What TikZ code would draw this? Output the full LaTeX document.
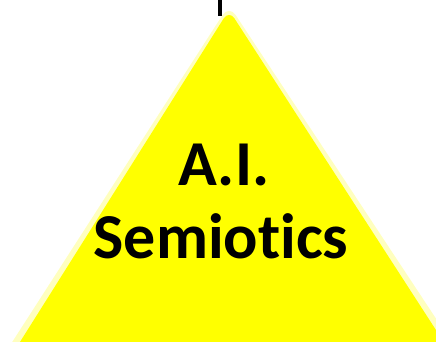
\documentclass[tikz,border=0pt]{standalone}
\usepackage{fontspec}
\setmainfont[Ligatures={NoCommon}]{Carlito}
\definecolor{triyellow}{HTML}{FFFF00}
\definecolor{haloyellow}{HTML}{FFFF80}
\begin{document}
\begin{tikzpicture}[x=1pt,y=1pt,
  lbl/.style={font=\fontsize{64}{70}\selectfont\bfseries, text=black, inner sep=0pt, anchor=base}]
\useasboundingbox (0,0) rectangle (436,341);
\fill[white] (0,0) rectangle (436,341);
\clip (0,0) rectangle (436,341);
% soft halo
\fill[haloyellow, opacity=0.5, rounded corners=12pt] (229,336) -- (0,-20) -- (464,-20) -- cycle;
% triangle
\fill[triyellow, rounded corners=10pt] (229,331) -- (8,-20) -- (456,-20) -- cycle;
% top line
\coordinate (ltop) at (220,341);
\coordinate (lbot) at (220,324.5);
\draw[line width=3.3pt, black] (ltop) -- (lbot);
\node[lbl] (ai) at (224,156) {A.I.};
\node[lbl] (sem) at (221,83) {Semio\kern0pt tics};
\end{tikzpicture}
\end{document}
